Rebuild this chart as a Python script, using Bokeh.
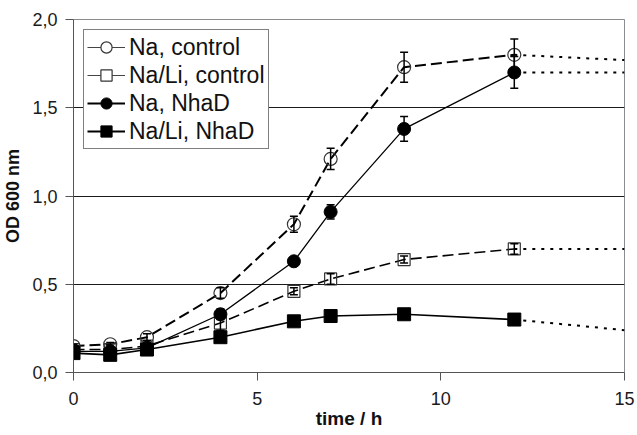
from bokeh.plotting import figure
from bokeh.models import (Range1d, FixedTicker, CustomJSTickFormatter, Whisker, TeeHead,
                          ColumnDataSource, Legend, LegendItem)
from bokeh.embed import file_html
from bokeh.resources import INLINE

# ---- data ----
time = [0, 1, 2, 4, 6, 7, 9, 12]
na_ctrl = [0.15, 0.16, 0.20, 0.45, 0.84, 1.21, 1.73, 1.80]
na_ctrl_err = [0.01, 0.01, 0.02, 0.03, 0.045, 0.06, 0.085, 0.09]
nali_ctrl = [0.13, 0.13, 0.15, 0.28, 0.46, 0.53, 0.64, 0.70]
nali_ctrl_err = [0.01, 0.01, 0.02, 0.04, 0.02, 0.03, 0.02, 0.03]
na_nhad = [0.12, 0.12, 0.14, 0.33, 0.63, 0.91, 1.38, 1.70]
na_nhad_err = [0.01, 0.01, 0.01, 0.03, 0.02, 0.04, 0.07, 0.09]
nali_nhad = [0.11, 0.10, 0.13, 0.20, 0.29, 0.32, 0.33, 0.30]
nali_nhad_err = [0.01, 0.01, 0.01, 0.01, 0.01, 0.01, 0.01, 0.01]

trend_x = [12, 15]
na_ctrl_trend = [1.80, 1.77]
nali_ctrl_trend = [0.70, 0.70]
na_nhad_trend = [1.70, 1.70]
nali_nhad_trend = [0.30, 0.24]

labels = ["Na, control", "Na/Li, control", "Na, NhaD", "Na/Li, NhaD"]
x_ticks = [0, 5, 10, 15]
y_ticks = [0, 0.5, 1.0, 1.5, 2.0]

FONT = "Liberation Sans"

p = figure(width=636, height=434, output_backend="svg", toolbar_location=None,
           x_range=Range1d(0, 15), y_range=Range1d(0, 2.0),
           min_border_left=73, min_border_right=12, min_border_top=19, min_border_bottom=62)

p.background_fill_color = "white"
p.border_fill_color = "white"
p.outline_line_color = "#8c8c8c"
p.outline_line_width = 1

p.xgrid.visible = False
p.ygrid.ticker = FixedTicker(ticks=[0.5, 1.0, 1.5])
p.ygrid.grid_line_color = "#1a1a1a"
p.ygrid.grid_line_width = 1

for ax in (p.xaxis[0], p.yaxis[0]):
    ax.axis_line_color = "#555555"
    ax.axis_line_width = 1
    ax.major_tick_line_color = "#555555"
    ax.major_tick_out = 8
    ax.major_tick_in = 0
    ax.minor_tick_line_color = None
    ax.major_label_text_font = FONT
    ax.major_label_text_font_size = "18px"
    ax.major_label_text_color = "#1a1a1a"
    ax.axis_label_text_font = FONT
    ax.axis_label_text_font_style = "bold"
    ax.axis_label_text_color = "#111111"

p.xaxis.ticker = FixedTicker(ticks=x_ticks)
p.yaxis.ticker = FixedTicker(ticks=y_ticks)
p.yaxis.formatter = CustomJSTickFormatter(code="return tick.toFixed(1).replace('.', ',');")
p.xaxis.major_label_standoff = 11
p.yaxis.major_label_standoff = 8
p.xaxis.axis_label = "time / h"
p.yaxis.axis_label = "OD 600 nm"
p.xaxis.axis_label_text_font_size = "19px"
p.yaxis.axis_label_text_font_size = "18px"
p.xaxis.axis_label_standoff = 0
p.yaxis.axis_label_standoff = 6

# ---- dotted extrapolations ----
for ys in (na_ctrl_trend, nali_ctrl_trend, na_nhad_trend, nali_nhad_trend):
    p.line(trend_x, ys, line_color="black", line_width=2, line_dash="3 6")

# ---- series lines ----
p.line(time, na_ctrl, line_color="black", line_width=2, line_dash="11 5")
p.line(time, nali_ctrl, line_color="black", line_width=1.6, line_dash="11 5")
p.line(time, na_nhad, line_color="black", line_width=1.3)
p.line(time, nali_nhad, line_color="black", line_width=1.6)

# ---- error bars ----
def add_err(vals, errs):
    src = ColumnDataSource(data=dict(x=time,
                                     lower=[v - e for v, e in zip(vals, errs)],
                                     upper=[v + e for v, e in zip(vals, errs)]))
    w = Whisker(base="x", lower="lower", upper="upper", source=src,
                line_color="black", line_width=1.5,
                upper_head=TeeHead(size=8, line_color="black", line_width=1.5),
                lower_head=TeeHead(size=8, line_color="black", line_width=1.5))
    w.level = "glyph"
    p.add_layout(w)

add_err(na_ctrl, na_ctrl_err)
add_err(nali_ctrl, nali_ctrl_err)
add_err(na_nhad, na_nhad_err)
add_err(nali_nhad, nali_nhad_err)

# ---- markers ----
m1 = p.scatter(time, na_ctrl, marker="circle", size=13, fill_color="white", fill_alpha=0.0,
               line_color="#333333", line_width=1.2)
m2 = p.scatter(time, nali_ctrl, marker="square", size=12, fill_color="white", fill_alpha=0.0,
               line_color="#333333", line_width=1.2)
m3 = p.scatter(time, na_nhad, marker="circle", size=13, fill_color="black", line_color="black")
m4 = p.scatter(time, nali_nhad, marker="square", size=13, fill_color="black", line_color="black")

# legend-only solid lines
nan = float("nan")
l1 = p.line([nan], [nan], line_color="#444444", line_width=1.2)
l2 = p.line([nan], [nan], line_color="#444444", line_width=1.2)
l3 = p.line([nan], [nan], line_color="black", line_width=2)
l4 = p.line([nan], [nan], line_color="black", line_width=2)
lm1 = p.scatter([nan], [nan], marker="circle", size=11, fill_color="white", line_color="#333333", line_width=1.2)
lm2 = p.scatter([nan], [nan], marker="square", size=11, fill_color="white", line_color="#333333", line_width=1.2)
lm3 = p.scatter([nan], [nan], marker="circle", size=12, fill_color="black", line_color="black")
lm4 = p.scatter([nan], [nan], marker="square", size=11, fill_color="black", line_color="black")

legend = Legend(items=[
    LegendItem(label=labels[0], renderers=[l1, lm1]),
    LegendItem(label=labels[1], renderers=[l2, lm2]),
    LegendItem(label=labels[2], renderers=[l3, lm3]),
    LegendItem(label=labels[3], renderers=[l4, lm4]),
], location="top_left")
legend.label_text_font = FONT
legend.label_text_font_size = "23px"
legend.label_text_color = "#111111"
legend.border_line_color = "black"
legend.border_line_width = 1
legend.background_fill_color = "white"
legend.background_fill_alpha = 1
legend.padding = 3
legend.spacing = 0
legend.margin = 10
legend.glyph_width = 38
legend.glyph_height = 28
legend.label_height = 28
legend.label_standoff = 4
p.add_layout(legend)

open("out.html", "w").write(file_html(p, INLINE))
